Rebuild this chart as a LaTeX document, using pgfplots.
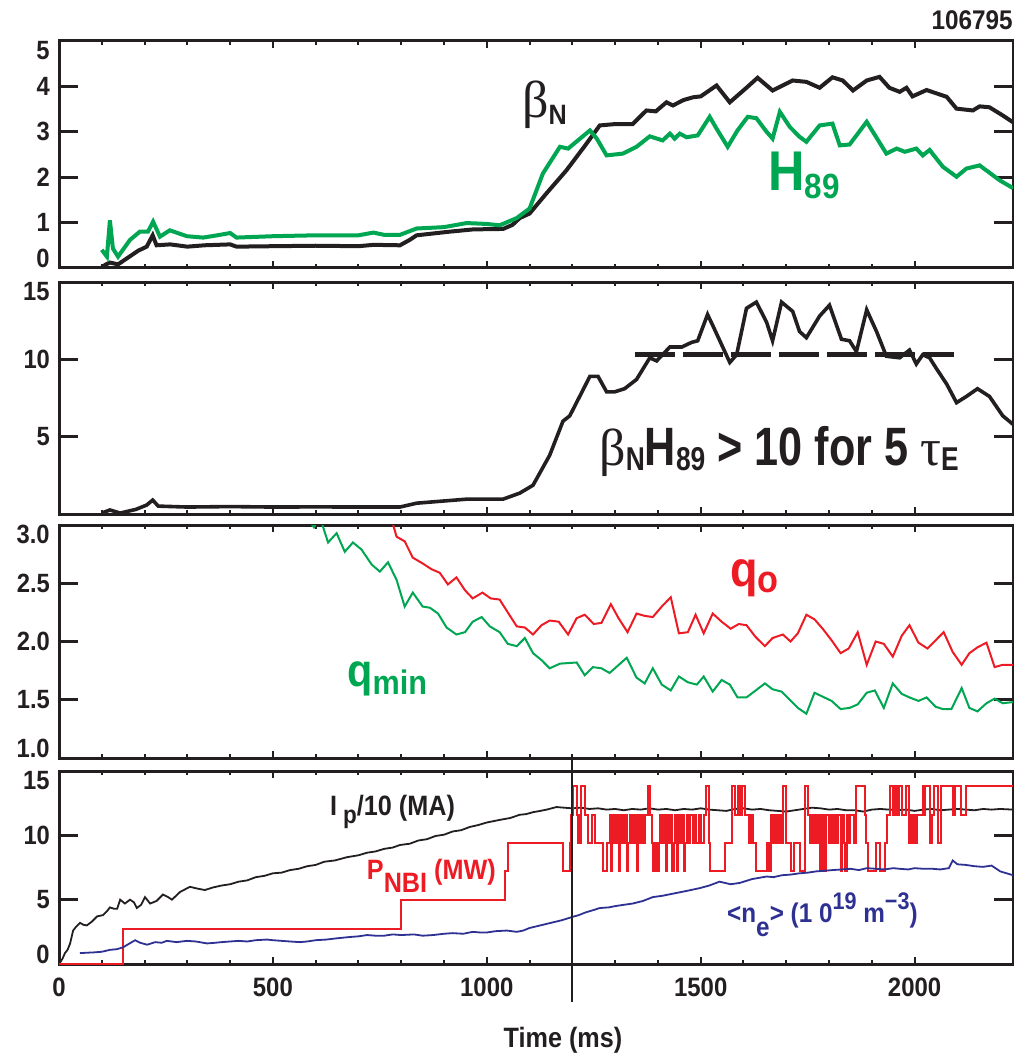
\documentclass[border=0pt]{standalone}
\usepackage{fontspec}
\setmainfont{Liberation Sans}[FakeStretch=0.9]
\newfontfamily\cond{Liberation Sans}[FakeStretch=0.8]
\newfontfamily\grk{Liberation Serif}
\usepackage{pgfplots}
\pgfplotsset{compat=1.18}

\definecolor{dgreen}{RGB}{0,166,81}
\definecolor{dred}{RGB}{237,28,36}
\definecolor{dblue}{RGB}{46,49,146}
\definecolor{dblack}{RGB}{35,31,32}

\newcommand{\fs}[1]{\fontsize{#1}{#1}\selectfont}
% end labels of the y axes sit inside the panel
\newcommand{\toplab}[2]{\node[anchor=north east, inner sep=0pt, xshift=-4.5pt,
  text=dblack, font=\bfseries\fs{13.2}] at (axis cs:0,#1) {#2};}
\newcommand{\botlab}[2]{\node[anchor=south east, inner sep=0pt, xshift=-4.5pt,
  text=dblack, font=\bfseries\fs{13.2}] at (axis cs:0,#1) {#2};}

\pgfplotsset{
  panel/.style={
    scale only axis, width=477pt, xmin=0, xmax=2230,
    anchor=north west,
    axis line style={line width=1.5pt, draw=dblack},
    xtick={0,500,1000,1500,2000}, minor x tick num=4,
    tick align=inside, xtick pos=both, ytick pos=both,
    major tick length=9.5pt, minor tick length=1.8pt,
    xtick style={/pgfplots/major tick length=3.5pt, line width=1pt, draw=dblack},
    ytick style={line width=1.5pt, draw=dblack},
    clip mode=individual,
    /pgf/number format/assume math mode=true,
    yticklabel pos=left,
    yticklabel style={font=\bfseries\fs{13.2}, text=dblack, xshift=-1pt},
  },
}

\begin{document}
\begin{tikzpicture}
\useasboundingbox (0,0) rectangle (506.5pt,-527pt);

% ---------- panel 1: beta_N and H89
\begin{axis}[panel, at={(29.5pt,-20.5pt)}, height=113.5pt,
  ymin=0, ymax=5, ytick={1,2,3,4}, xticklabels={}]
\addplot[dblack, line width=2pt] coordinates {
(100,0.02) (110,0.08) (119,0.12) (138,0.08) (160,0.22) (185,0.38) (205,0.47)
(219,0.72) (228,0.50) (260,0.52) (300,0.47) (340,0.50) (400,0.52) (415,0.47)
(500,0.48) (600,0.49) (700,0.48) (735,0.51) (797,0.50) (820,0.62) (836,0.72)
(913,0.80) (968,0.85) (1038,0.86) (1060,0.95) (1077,1.10) (1100,1.20) (1140,1.65)
(1186,2.15) (1230,2.70) (1264,3.14) (1300,3.17) (1341,3.17) (1373,3.47) (1395,3.45)
(1420,3.65) (1435,3.58) (1460,3.70) (1482,3.76) (1500,3.78) (1537,4.02) (1568,3.65)
(1607,3.97) (1633,4.19) (1668,3.91) (1715,4.13) (1747,4.10) (1778,3.97) (1808,4.20)
(1832,4.13) (1856,3.91) (1888,4.13) (1918,4.21) (1941,3.97) (1965,3.88) (1981,3.97)
(1995,3.78) (2028,3.92) (2075,3.77) (2098,3.51) (2136,3.47) (2152,3.56) (2175,3.54)
(2206,3.36) (2230,3.21)};
\addplot[dgreen, line width=2pt] coordinates {
(100,0.40) (112,0.25) (119,1.05) (126,0.43) (138,0.25) (166,0.62) (189,0.80)
(208,0.80) (220,1.02) (236,0.69) (259,0.83) (299,0.70) (337,0.67) (370,0.72)
(400,0.77) (415,0.67) (500,0.70) (600,0.72) (700,0.72) (735,0.78) (760,0.73)
(797,0.73) (836,0.87) (900,0.90) (953,0.99) (1000,0.97) (1030,0.94) (1070,1.10)
(1100,1.31) (1131,2.08) (1171,2.67) (1190,2.63) (1241,3.03) (1257,2.85) (1280,2.48)
(1318,2.52) (1350,2.67) (1381,2.90) (1411,2.81) (1428,2.96) (1439,2.85) (1451,2.96)
(1467,2.88) (1493,2.92) (1521,3.33) (1537,3.07) (1563,2.67) (1586,3.03) (1610,3.33)
(1630,3.30) (1654,3.00) (1668,2.85) (1685,3.44) (1708,3.11) (1731,2.89) (1747,2.78)
(1778,3.14) (1808,3.18) (1825,2.70) (1848,2.72) (1888,3.22) (1934,2.52) (1958,2.63)
(1977,2.56) (2004,2.63) (2019,2.48) (2035,2.60) (2066,2.23) (2098,2.01) (2121,2.19)
(2152,2.26) (2199,1.93) (2230,1.76)};
\toplab{5}{5}
\botlab{0}{0}
\node[anchor=base west, text=dblack, inner sep=0pt] at (axis cs:1082,3.32)
  {{\grk\fs{26}β}{\bfseries\fs{14}\raisebox{-3.5pt}{N}}};
\node[anchor=base west, text=dgreen, inner sep=0pt] at (axis cs:1657,1.71)
  {\bfseries\fs{28}H\fs{17.5}\raisebox{-4pt}{89}};
\end{axis}

% ---------- panel 2: beta_N H89
\begin{axis}[panel, at={(29.5pt,-141pt)}, height=116pt,
  ymin=0, ymax=15, ytick={5,10}, xticklabels={}]
\addplot[dblack, line width=1.8pt] coordinates {
(100,0.06) (119,0.26) (143,0.06) (180,0.30) (205,0.58) (219,0.90) (232,0.51)
(300,0.45) (400,0.48) (500,0.45) (600,0.46) (700,0.45) (797,0.45) (836,0.70)
(953,0.96) (1038,0.96) (1077,1.35) (1108,1.86) (1147,3.8) (1178,6.0) (1194,6.35)
(1241,8.9) (1260,8.9) (1280,7.9) (1299,7.9) (1322,8.1) (1350,8.7) (1381,10.1)
(1397,9.9) (1428,10.8) (1456,10.8) (1479,11.1) (1493,11.2) (1516,12.9) (1528,12.2)
(1568,9.8) (1584,10.3) (1607,13.3) (1630,13.7) (1654,12.4) (1668,11.2) (1689,13.7)
(1715,13.1) (1731,11.8) (1747,11.4) (1778,12.8) (1801,13.5) (1829,11.3) (1848,11.2)
(1864,10.5) (1888,13.2) (1911,11.8) (1934,10.2) (1965,10.1) (1988,10.6) (2004,9.7)
(2019,10.3) (2035,10.1) (2051,9.4) (2075,8.4) (2098,7.2) (2121,7.6) (2147,8.1)
(2175,7.6) (2206,6.35) (2230,5.8)};
% threshold beta_N H89 = 10
\addplot[dblack, line width=2.2pt, dash pattern=on 20pt off 4pt] coordinates {
(1346,10.3) (2093,10.3)};
\toplab{15}{15}
\node[anchor=base west, text=dblack, inner sep=0pt] at (axis cs:1262,3.14)
  {{\grk\fs{26}β}{\cond\bfseries\fs{16.5}\raisebox{-2.5pt}{N}\fs{27}H\fs{16.5}\raisebox{-2.5pt}{89}\fs{27} \textgreater{} 10 for 5 }{\grk\fs{26}τ}{\cond\bfseries\fs{16.5}\raisebox{-2.5pt}{E}}};
\end{axis}

% ---------- panel 3: q0 and qmin
\begin{axis}[panel, at={(29.5pt,-262.5pt)}, height=116.5pt,
  ymin=1, ymax=3, ytick={1.5,2,2.5}, xticklabels={},
  yticklabel style={/pgf/number format/.cd, fixed, fixed zerofill, precision=1}]
\addplot[dgreen, line width=1pt] coordinates {
(580,3.06) (596,2.98) (606,3.05) (614,3.02) (629,2.85) (649,2.93) (668,2.77)
(687,2.85) (707,2.79) (731,2.66) (750,2.60) (769,2.68) (789,2.53) (808,2.30)
(827,2.42) (850,2.30) (867,2.29) (886,2.24) (906,2.12) (929,2.06) (949,2.08)
(967,2.17) (988,2.21) (1007,2.13) (1030,2.08) (1049,1.98) (1070,1.96) (1089,2.03)
(1108,1.90) (1128,1.84) (1147,1.77) (1171,1.81) (1210,1.82) (1229,1.71) (1248,1.78)
(1268,1.77) (1287,1.73) (1327,1.86) (1350,1.69) (1369,1.64) (1388,1.77) (1409,1.63)
(1430,1.58) (1449,1.70) (1470,1.65) (1491,1.63) (1507,1.70) (1528,1.57) (1549,1.67)
(1568,1.63) (1586,1.52) (1607,1.52) (1650,1.64) (1668,1.59) (1689,1.57) (1727,1.43)
(1747,1.38) (1766,1.56) (1806,1.49) (1827,1.42) (1848,1.43) (1867,1.46) (1888,1.56)
(1907,1.58) (1928,1.43) (1949,1.64) (1970,1.55) (1988,1.52) (2009,1.49) (2028,1.52)
(2049,1.44) (2066,1.42) (2086,1.42) (2110,1.60) (2128,1.43) (2147,1.40) (2168,1.47)
(2187,1.51) (2206,1.47) (2230,1.48)};
\addplot[dred, line width=1pt] coordinates {
(775,3.08) (789,2.90) (808,2.86) (827,2.72) (850,2.67) (871,2.62) (890,2.59)
(909,2.49) (929,2.55) (949,2.44) (967,2.37) (990,2.42) (1009,2.37) (1030,2.36)
(1049,2.25) (1070,2.13) (1089,2.12) (1108,2.06) (1128,2.14) (1147,2.18) (1168,2.17)
(1190,2.06) (1210,2.20) (1229,2.23) (1250,2.15) (1268,2.16) (1290,2.32) (1308,2.20)
(1329,2.08) (1350,2.24) (1369,2.22) (1388,2.21) (1409,2.30) (1430,2.38) (1449,2.07)
(1470,2.08) (1488,2.23) (1507,2.07) (1528,2.24) (1549,2.17) (1570,2.11) (1589,2.15)
(1607,2.14) (1628,2.04) (1650,1.96) (1668,2.03) (1692,2.06) (1710,2.00) (1727,2.07)
(1747,2.23) (1766,2.19) (1785,2.11) (1806,2.01) (1827,1.90) (1846,1.94) (1867,2.08)
(1888,1.80) (1909,2.00) (1928,1.98) (1949,1.87) (1970,2.05) (1988,2.14) (2009,1.99)
(2030,1.94) (2049,2.01) (2068,2.08) (2089,1.91) (2110,1.80) (2128,1.90) (2147,1.95)
(2168,1.99) (2187,1.78) (2206,1.80) (2230,1.80)};
\toplab{3}{3.0}
\botlab{1}{1.0}
\node[anchor=base west, text=dred, inner sep=0pt] at (axis cs:1568,2.47)
  {\bfseries\fs{25}q\fs{19}\raisebox{-3pt}{o}};
\node[anchor=base west, text=dgreen, inner sep=0pt] at (axis cs:673,1.61)
  {\bfseries\fs{23}q\fs{17}\raisebox{-4pt}{min}};
\end{axis}

% ---------- panel 4: Ip, PNBI, ne
\begin{axis}[panel, at={(29.5pt,-385.5pt)}, height=96.5pt,
  ymin=0, ymax=15, ytick={5,10},
  xticklabels={0,500,1000,1500,2000},
  xticklabel style={font=\bfseries\fs{13.3}, text=dblack, yshift=-3.5pt}]
\addplot[dblack, line width=0.9pt] coordinates {
(0,0) (8,0.4) (14,0.85) (20,1.1) (26,1.6) (33,2.6) (40,2.9) (49,3.2) (57,3.05)
(65,3.0) (77,3.3) (89,3.7) (103,3.8) (112,4.1) (119,4.4) (128,4.3) (136,4.3)
(143,5.0) (154,4.7) (166,5.0) (175,4.8) (182,4.35) (192,4.6) (201,5.2) (213,4.7)
(228,4.9) (243,5.4) (255,5.2) (264,5.0) (283,5.6) (306,6.0) (325,5.85) (341,5.75)
(360,5.95) (380,6.1) (400,6.2) (420,6.4) (440,6.5) (460,6.75) (480,6.85) (500,7.05)
(520,7.1) (540,7.3) (560,7.4) (580,7.6) (600,7.7) (620,7.95) (645,8.05) (673,8.3)
(700,8.45) (720,8.65) (740,8.75) (760,8.95) (780,9.05) (797,9.25) (820,9.35)
(840,9.6) (860,9.7) (880,9.95) (900,10.05) (920,10.3) (940,10.4) (960,10.65)
(980,10.8) (1000,11.0) (1030,11.2) (1055,11.35) (1077,11.6) (1092,11.65) (1108,11.8)
(1125,11.9) (1140,12.0) (1163,12.2) (1180,12.15) (1200,12.1) (1220,12.15) (1240,12.05)
(1260,12.1) (1280,12.0) (1300,12.05) (1320,11.95) (1340,12.05) (1360,12.0) (1380,12.1)
(1400,12.0) (1420,12.05) (1440,11.95) (1460,12.05) (1480,12.0) (1500,12.1) (1520,12.0)
(1540,11.95) (1560,11.9) (1580,12.05) (1600,12.1) (1620,12.0) (1640,12.05) (1660,11.95)
(1680,11.9) (1700,11.85) (1720,11.95) (1740,12.05) (1760,12.15) (1780,12.1) (1800,12.0)
(1820,12.05) (1840,11.95) (1860,11.95) (1880,11.85) (1900,12.0) (1920,12.05) (1940,12.0)
(1960,11.95) (1980,12.0) (2000,11.9) (2020,12.0) (2040,12.05) (2060,11.95) (2080,12.0)
(2100,12.05) (2120,12.0) (2140,11.95) (2160,12.05) (2180,12.0) (2200,12.05) (2230,12.0)};
\addplot[dred, line width=1pt, const plot] coordinates {
(0,0) (150,2.75) (800,5.0) (1042,7.2) (1050,9.4) (1178,7.2) (1194,9.4) (1197,11.6)
(1202,13.8) (1211,11.6) (1213,9.4) (1215,11.6) (1216,9.4) (1220,13.8) (1229,11.6)
(1237,9.4) (1245,11.6) (1252,9.4) (1272,7.2) (1280,9.4) (1287,11.6) (1290,7.2)
(1293,11.6) (1297,9.4) (1300,11.6) (1304,9.4) (1306,11.6) (1309,7.2) (1312,11.6)
(1316,9.4) (1318,11.6) (1322,9.4) (1325,11.6) (1328,7.2) (1331,9.4) (1334,11.6)
(1338,9.4) (1341,11.6) (1344,9.4) (1348,11.6) (1351,7.2) (1354,11.6) (1358,9.4)
(1362,11.6) (1366,9.4) (1370,11.6) (1377,13.8) (1382,11.6) (1386,9.4) (1389,7.2)
(1393,9.4) (1398,7.2) (1402,9.4) (1406,11.6) (1410,9.4) (1414,11.6) (1418,7.2)
(1421,11.6) (1425,9.4) (1430,11.6) (1434,7.2) (1437,9.4) (1441,11.6) (1445,7.2)
(1448,11.6) (1452,9.4) (1456,11.6) (1461,7.2) (1464,9.4) (1468,11.6) (1472,9.4)
(1476,11.6) (1481,9.4) (1485,11.6) (1490,9.4) (1495,11.6) (1500,9.4) (1508,11.6)
(1513,13.8) (1519,9.4) (1521,7.2) (1556,9.4) (1572,13.8) (1579,11.6) (1587,13.8)
(1592,11.6) (1596,13.8) (1603,11.6) (1614,9.4) (1618,11.6) (1622,9.4) (1630,7.2)
(1655,9.4) (1660,7.2) (1665,11.6) (1669,9.4) (1672,11.6) (1675,9.4) (1678,11.6)
(1682,9.4) (1686,11.6) (1689,9.4) (1692,13.8) (1700,9.4) (1712,7.2) (1718,9.4)
(1731,7.2) (1743,13.8) (1751,11.6) (1756,9.4) (1760,11.6) (1764,9.4) (1768,11.6)
(1772,9.4) (1776,11.6) (1780,7.2) (1784,11.6) (1788,7.2) (1792,11.6) (1800,9.4)
(1804,11.6) (1808,9.4) (1812,11.6) (1816,9.4) (1820,11.6) (1828,7.2) (1831,11.6)
(1835,9.4) (1838,7.2) (1841,11.6) (1845,9.4) (1850,11.6) (1858,9.4) (1864,13.8)
(1883,11.6) (1887,9.4) (1891,7.2) (1910,9.4) (1918,7.2) (1930,9.4) (1936,11.6)
(1942,13.8) (1949,11.6) (1951,13.8) (1955,11.6) (1957,13.8) (1960,11.6) (1964,13.8)
(1970,11.6) (1980,13.8) (1988,9.4) (1992,11.6) (1996,9.4) (1999,11.6) (2003,9.4)
(2006,11.6) (2019,13.8) (2023,11.6) (2025,13.8) (2035,9.4) (2040,11.6) (2046,13.8)
(2055,9.4) (2062,13.8) (2090,11.6) (2094,13.8) (2109,11.6) (2121,13.8) (2230,13.8)};
\addplot[dblue, line width=0.9pt] coordinates {
(49,0.85) (80,0.9) (100,0.95) (119,1.1) (135,1.15) (150,1.3) (165,1.6) (178,1.85)
(190,1.65) (206,1.5) (225,1.7) (240,1.65) (252,1.8) (275,1.7) (299,1.8) (320,1.75)
(346,1.6) (365,1.65) (380,1.7) (400,1.75) (420,1.8) (440,1.75) (460,1.85) (486,1.9)
(500,1.85) (520,1.8) (540,1.75) (563,1.7) (580,1.75) (600,1.85) (625,1.9) (650,2.0)
(680,2.1) (700,2.15) (720,2.25) (740,2.2) (760,2.2) (780,2.3) (800,2.25) (830,2.3)
(850,2.2) (874,2.25) (900,2.35) (920,2.4) (945,2.35) (967,2.5) (985,2.45) (1000,2.45)
(1020,2.55) (1047,2.6) (1070,2.5) (1085,2.6) (1100,2.8) (1125,3.0) (1150,3.2)
(1175,3.4) (1199,3.65) (1215,3.8) (1230,4.0) (1250,4.2) (1264,4.35) (1285,4.4)
(1300,4.5) (1320,4.6) (1341,4.7) (1365,4.9) (1388,5.2) (1410,5.3) (1440,5.5)
(1470,5.7) (1498,5.9) (1520,6.1) (1544,6.4) (1570,6.2) (1591,6.3) (1620,6.6)
(1654,6.8) (1670,6.75) (1690,6.9) (1710,6.95) (1731,7.05) (1750,7.1) (1770,7.2)
(1790,7.25) (1808,7.3) (1830,7.35) (1850,7.4) (1870,7.3) (1888,7.45) (1910,7.4)
(1930,7.35) (1950,7.45) (1965,7.4) (1985,7.35) (2000,7.45) (2020,7.4) (2042,7.4)
(2060,7.35) (2080,7.45) (2089,8.05) (2100,7.75) (2120,7.7) (2140,7.6) (2160,7.55)
(2180,7.65) (2200,7.2) (2215,7.05) (2230,6.9)};
\toplab{15}{15}
\botlab{0}{0}
\draw[line width=1pt, dblack] (axis cs:1200,16) -- (axis cs:1200,-2.95);
\node[anchor=base west, text=dblack, inner sep=0pt] at (axis cs:633,11.58)
  {\bfseries\fs{14}I\hspace{3pt}\fs{12.5}\raisebox{-4pt}{p}\fs{14}/10 (MA)};
\node[anchor=base west, text=dred, inner sep=0pt] at (axis cs:719,6.53)
  {\bfseries\fs{14}P\raisebox{-6.5pt}{NBI} (MW)};
\node[anchor=base west, text=dblue, inner sep=0pt] at (axis cs:1561,3.19)
  {\bfseries\fs{13.5}\textless n\raisebox{-7pt}{e}\textgreater{} (1 0\raisebox{6.5pt}{\fs{12}19} m\raisebox{6.5pt}{\fs{12}−3})};
\end{axis}

\node[anchor=base east, inner sep=0pt, text=dblack] at (506.5pt,-15pt)
  {\bfseries\fs{13.5}106795};
\node[anchor=base, inner sep=0pt, text=dblack] at (281.5pt,-523.5pt)
  {\bfseries\fs{14}Time (ms)};
\end{tikzpicture}
\end{document}
